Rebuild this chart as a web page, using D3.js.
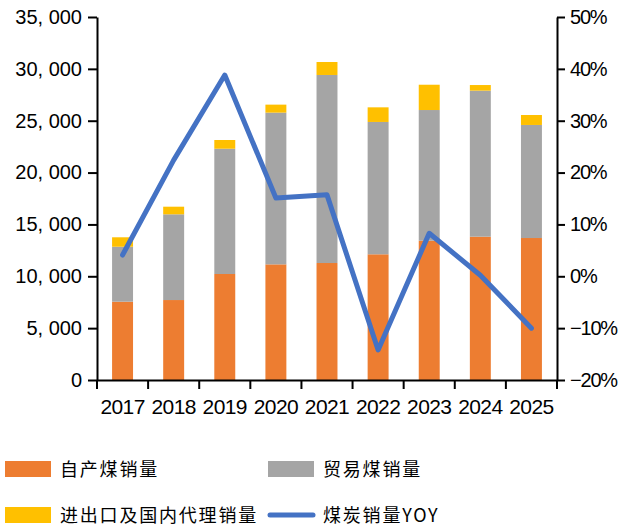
<!DOCTYPE html>
<html>
<head>
<meta charset="utf-8">
<script src="https://cdn.jsdelivr.net/npm/d3@7"></script>
<style>
  body { margin: 0; background: #fff; }
  text { font-family: "Liberation Sans", Arial, sans-serif; fill: #000; }
</style>
</head>
<body>
<svg width="620" height="527"></svg>
<script>
// Data
var years = ["2017", "2018", "2019", "2020", "2021", "2022", "2023", "2024", "2025"];
var selfSales = [7550, 7710, 10220, 11150, 11280, 12120, 13430, 13820, 13690];
var tradeSales = [5300, 8265, 12080, 14630, 18130, 12760, 12600, 14080, 10900];
var agentSales = [910, 735, 840, 770, 1250, 1410, 2440, 540, 960];
var yoy = [4.1, 22.4, 38.8, 15.1, 15.7, -14.2, 8.3, 0.2, -10.0];
var leftTicks = [0, 5000, 10000, 15000, 20000, 25000, 30000, 35000];
var rightTicks = [-20, -10, 0, 10, 20, 30, 40, 50];

var seriesNames = ["自产煤销量", "贸易煤销量", "进出口及国内代理销量", "煤炭销量YOY"];
var colors = ["#ED7D31", "#A5A5A5", "#FFC000", "#4472C4"];

var svg = d3.select("svg");

var plotL = 97, plotR = 557, plotT = 17, plotB = 380;

var x = d3.scaleBand().domain(years).range([plotL, plotR]).paddingInner(0.59).paddingOuter(0.295);
var xb = d3.scaleBand().domain(years).range([plotL, plotR]);
var yL = d3.scaleLinear().domain([0, 35000]).range([plotB, plotT]);
var yR = d3.scaleLinear().domain([-20, 50]).range([plotB, plotT]);

var fmt = function(d) { return d3.format(",")(d).replace(",", ", "); };

// stacked bars
var rows = years.map(function(y, i) {
  return { year: y, a: selfSales[i], b: tradeSales[i], c: agentSales[i] };
});
var stack = d3.stack().keys(["a", "b", "c"])(rows);

svg.append("g").selectAll("g")
  .data(stack)
  .enter().append("g")
    .attr("fill", function(d, i) { return colors[i]; })
  .selectAll("rect")
  .data(function(d) { return d; })
  .enter().append("rect")
    .attr("x", function(d) { return x(d.data.year); })
    .attr("width", x.bandwidth())
    .attr("y", function(d) { return yL(d[1]); })
    .attr("height", function(d) { return yL(d[0]) - yL(d[1]); });

// axes
var axL = svg.append("g")
  .attr("transform", "translate(" + plotL + ",0)")
  .call(d3.axisLeft(yL).tickValues(leftTicks).tickFormat(fmt).tickSize(9).tickSizeOuter(0).tickPadding(6));

var axR = svg.append("g")
  .attr("transform", "translate(" + plotR + ",0)")
  .call(d3.axisRight(yR).tickValues(rightTicks).tickFormat(function(d) { return (d < 0 ? "\u2212" + (-d) : d) + "%"; })
    .tickSize(8).tickSizeOuter(0).tickPadding(5));

var axB = svg.append("g")
  .attr("transform", "translate(0," + plotB + ")")
  .call(d3.axisBottom(xb).tickSize(0).tickPadding(19));

// category boundary ticks
svg.append("g").selectAll("line")
  .data(d3.range(years.length + 1))
  .enter().append("line")
    .attr("x1", function(i) { return plotL + i * xb.step(); })
    .attr("x2", function(i) { return plotL + i * xb.step(); })
    .attr("y1", plotB)
    .attr("y2", plotB + 9)
    .attr("stroke", "#000")
    .attr("stroke-width", 2);

[axL, axR, axB].forEach(function(ax) {
  ax.attr("font-family", null).attr("font-size", null);
  ax.selectAll("path, line").attr("stroke", "#000").attr("stroke-width", 2);
  ax.selectAll("text").style("font-size", "20px").attr("fill", "#000");
});
axB.selectAll("text").style("font-size", "21px").style("letter-spacing", "-0.6px");
axR.selectAll("text").style("letter-spacing", "-1.2px");

// YoY line
var line = d3.line()
  .x(function(d, i) { return xb(years[i]) + xb.bandwidth() / 2; })
  .y(function(d) { return yR(d); });

svg.append("path")
  .datum(yoy)
  .attr("d", line)
  .attr("fill", "none")
  .attr("stroke", colors[3])
  .attr("stroke-width", 5)
  .attr("stroke-linejoin", "round")
  .attr("stroke-linecap", "round");

// legend
var legendPos = [[5, 469], [268, 469], [5, 515], [268, 515]];
var leg = svg.append("g").selectAll("g")
  .data(seriesNames)
  .enter().append("g")
    .attr("transform", function(d, i) { return "translate(" + legendPos[i][0] + "," + legendPos[i][1] + ")"; });

leg.each(function(d, i) {
  var g = d3.select(this);
  if (i < 3) {
    g.append("rect").attr("x", 0).attr("y", -8).attr("width", 46).attr("height", 16).attr("fill", colors[i]);
  } else {
    g.append("line").attr("x1", 2).attr("x2", 45).attr("y1", 0).attr("y2", 0)
      .attr("stroke", colors[i]).attr("stroke-width", 5).attr("stroke-linecap", "round");
  }
  g.append("text")
    .attr("x", 55)
    .attr("y", 7)
    .style("font-family", "'Noto Sans CJK SC', sans-serif")
    .style("font-size", "18px")
    .style("letter-spacing", "1.8px")
    .text(d);
});
</script>
</body>
</html>
